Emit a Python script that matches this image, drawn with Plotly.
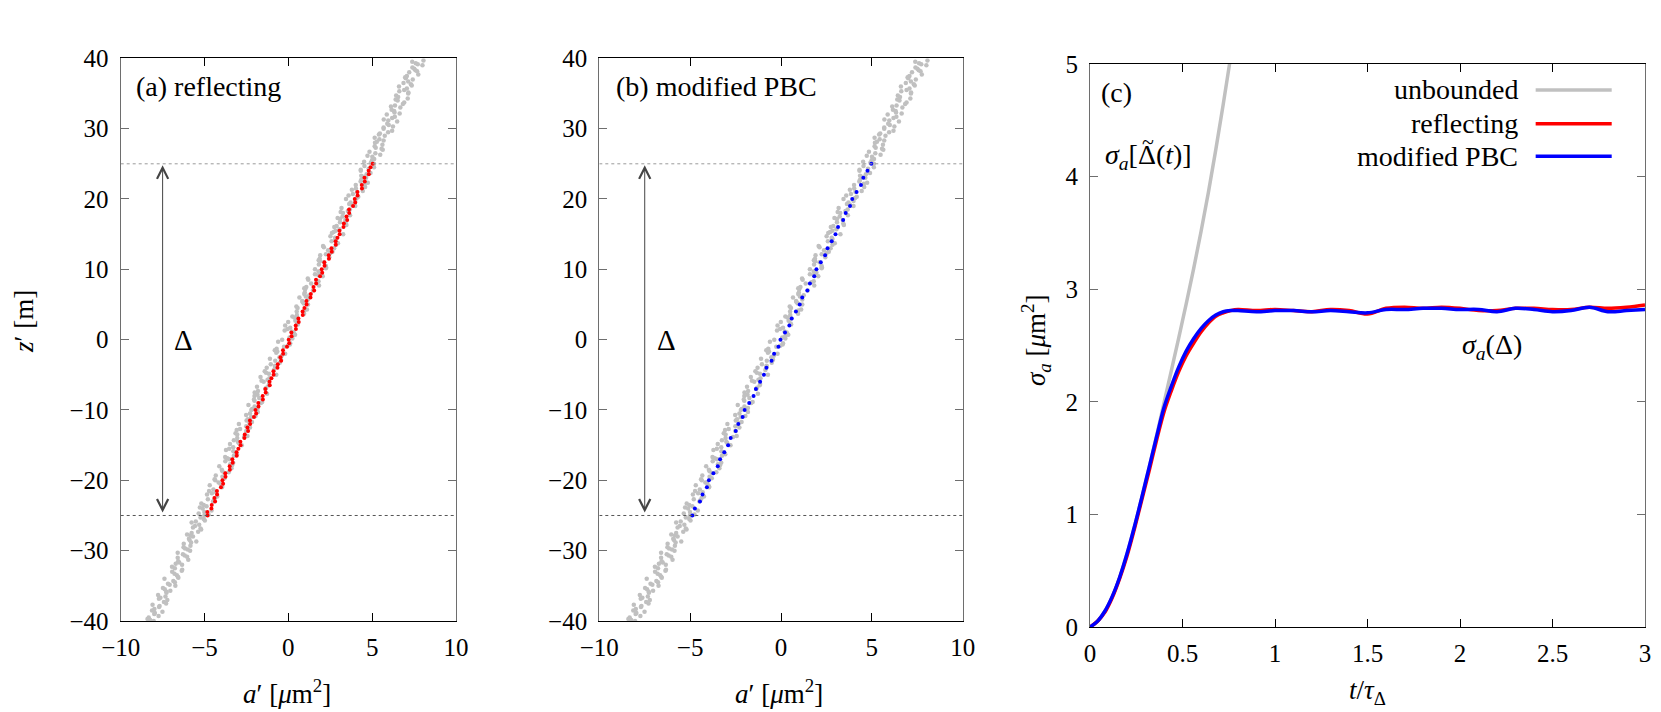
import plotly.graph_objects as go

# ---- panels (a)/(b): unbounded cloud in the (a', z') plane ----
gray_z = [
    -40.0, -39.7, -39.3, -39.0, -38.7, -38.3, -38.0, -37.7, -37.3, -37.0, -36.7, -36.3,
    -36.0, -35.7, -35.3, -35.0, -34.7, -34.3, -34.0, -33.7, -33.3, -33.0, -32.7, -32.3,
    -32.0, -31.7, -31.3, -31.0, -30.7, -30.3, -30.0, -29.7, -29.3, -29.0, -28.7, -28.3,
    -28.0, -27.7, -27.3, -27.0, -26.7, -26.3, -26.0, -25.7, -25.3, -25.0, -24.7, -24.3,
    -24.0, -23.7, -23.3, -23.0, -22.7, -22.3, -22.0, -21.7, -21.3, -21.0, -20.7, -20.3,
    -20.0, -19.7, -19.3, -19.0, -18.7, -18.3, -18.0, -17.7, -17.3, -17.0, -16.7, -16.3,
    -16.0, -15.7, -15.3, -15.0, -14.7, -14.3, -14.0, -13.7, -13.3, -13.0, -12.7, -12.3,
    -12.0, -11.7, -11.3, -11.0, -10.7, -10.3, -10.0, -9.7, -9.3, -9.0, -8.7, -8.3,
    -8.0, -7.7, -7.3, -7.0, -6.7, -6.3, -6.0, -5.7, -5.3, -5.0, -4.7, -4.3,
    -4.0, -3.7, -3.3, -3.0, -2.7, -2.3, -2.0, -1.7, -1.3, -1.0, -0.7, -0.3,
    0.0, 0.3, 0.7, 1.0, 1.3, 1.7, 2.0, 2.3, 2.7, 3.0, 3.3, 3.7,
    4.0, 4.3, 4.7, 5.0, 5.3, 5.7, 6.0, 6.3, 6.7, 7.0, 7.3, 7.7,
    8.0, 8.3, 8.7, 9.0, 9.3, 9.7, 10.0, 10.3, 10.7, 11.0, 11.3, 11.7,
    12.0, 12.3, 12.7, 13.0, 13.3, 13.7, 14.0, 14.3, 14.7, 15.0, 15.3, 15.7,
    16.0, 16.3, 16.7, 17.0, 17.3, 17.7, 18.0, 18.3, 18.7, 19.0, 19.3, 19.7,
    20.0, 20.3, 20.7, 21.0, 21.3, 21.7, 22.0, 22.3, 22.7, 23.0, 23.3, 23.7,
    24.0, 24.3, 24.7, 25.0, 25.3, 25.7, 26.0, 26.3, 26.7, 27.0, 27.3, 27.7,
    28.0, 28.3, 28.7, 29.0, 29.3, 29.7, 30.0, 30.3, 30.7, 31.0, 31.3, 31.7,
    32.0, 32.3, 32.7, 33.0, 33.3, 33.7, 34.0, 34.3, 34.7, 35.0, 35.3, 35.7,
    36.0, 36.3, 36.7, 37.0, 37.3, 37.7, 38.0, 38.3, 38.7, 39.0, 39.3, 39.7,
]
gray_a = [
    -8.03, -8.40, -7.74, -8.00, -7.51, -7.99, -7.71, -8.10, -7.42, -7.22, -7.63, -7.77,
    -7.27, -7.04, -7.48, -6.74, -7.18, -6.86, -7.39, -6.59, -6.79, -6.93, -6.33, -6.94,
    -6.34, -6.51, -5.97, -6.60, -6.18, -6.60, -5.86, -6.16, -5.84, -6.24, -5.49, -5.93,
    -5.69, -6.04, -5.38, -5.20, -5.69, -5.32, -5.77, -4.98, -5.24, -5.01, -5.35, -4.58,
    -5.11, -4.88, -5.19, -4.49, -4.80, -4.24, -4.85, -4.31, -4.47, -3.96, -4.69, -4.16,
    -4.36, -3.81, -4.33, -3.79, -3.93, -3.39, -4.12, -3.47, -3.76, -3.52, -3.77, -3.07,
    -3.15, -3.72, -3.29, -2.78, -2.96, -3.25, -3.05, -2.44, -3.15, -2.51, -2.88, -2.51,
    -2.95, -2.17, -2.42, -2.22, -2.52, -1.82, -2.21, -1.82, -2.38, -1.64, -2.02, -1.74,
    -2.02, -1.27, -1.81, -1.37, -1.87, -1.15, -1.47, -1.24, -1.66, -0.72, -1.33, -0.86,
    -1.29, -0.79, -0.51, -0.78, -1.10, -0.40, -0.19, -0.66, -0.70, -0.26, 0.09, -0.61,
    -0.37, 0.07, 0.40, 0.32, -0.22, 0.11, -0.19, 0.53, 0.42, 0.56, 0.24, 0.94,
    0.50, 1.11, 0.48, 1.17, 0.86, 1.17, 0.66, 1.25, 0.98, 1.47, 0.95, 1.83,
    1.36, 1.80, 1.16, 2.05, 1.59, 1.80, 1.59, 2.25, 1.82, 2.12, 1.81, 2.44,
    1.90, 2.50, 2.37, 2.73, 2.07, 2.96, 2.58, 2.83, 2.51, 3.27, 2.70, 3.05,
    2.74, 3.46, 3.08, 3.40, 2.94, 3.68, 3.26, 3.55, 3.17, 3.99, 3.63, 3.99,
    3.44, 4.17, 3.85, 4.10, 3.79, 4.58, 4.02, 4.74, 4.34, 4.64, 4.35, 4.90,
    4.32, 4.79, 4.54, 5.11, 4.52, 5.12, 5.01, 5.48, 4.84, 5.63, 5.21, 5.61,
    5.17, 5.68, 5.15, 5.75, 5.46, 6.19, 5.68, 6.24, 5.90, 6.49, 5.69, 6.35,
    5.87, 6.33, 6.16, 6.68, 6.36, 6.91, 6.52, 7.12, 6.43, 7.15, 6.62, 7.07,
    6.60, 7.31, 7.15, 7.42, 6.97, 7.75, 7.21, 7.58, 7.40, 8.00, 7.60, 8.06,
]
# a second batch of unbounded samples (same cloud, other realisation)
gray2_z = [
    -39.85, -39.5, -38.85, -38.5, -37.85, -37.5, -36.85, -36.5, -35.85, -35.5,
    -34.85, -34.5, -33.85, -33.5, -32.85, -32.5, -31.85, -31.5, -30.85, -30.5,
    -29.85, -29.5, -28.85, -28.5, -27.85, -27.5, -26.85, -26.5, -25.85, -25.5,
    -24.85, -24.5, -23.85, -23.5, -22.85, -22.5, -21.85, -21.5, -20.85, -20.5,
    -19.85, -19.5, -18.85, -18.5, -17.85, -17.5, -16.85, -16.5, -15.85, -15.5,
    -14.85, -14.5, -13.85, -13.5, -12.85, -12.5, -11.85, -11.5, -10.85, -10.5,
    -9.85, -9.5, -8.85, -8.5, -7.85, -7.5, -6.85, -6.5, -5.85, -5.5,
    -4.85, -4.5, -3.85, -3.5, -2.85, -2.5, -1.85, -1.5, -0.85, -0.5,
    0.15, 0.5, 1.15, 1.5, 2.15, 2.5, 3.15, 3.5, 4.15, 4.5,
    5.15, 5.5, 6.15, 6.5, 7.15, 7.5, 8.15, 8.5, 9.15, 9.5,
    10.15, 10.5, 11.15, 11.5, 12.15, 12.5, 13.15, 13.5, 14.15, 14.5,
    15.15, 15.5, 16.15, 16.5, 17.15, 17.5, 18.15, 18.5, 19.15, 19.5,
    20.15, 20.5, 21.15, 21.5, 22.15, 22.5, 23.15, 23.5, 24.15, 24.5,
    25.15, 25.5, 26.15, 26.5, 27.15, 27.5, 28.15, 28.5, 29.15, 29.5,
    30.15, 30.5, 31.15, 31.5, 32.15, 32.5, 33.15, 33.5, 34.15, 34.5,
    35.15, 35.5, 36.15, 36.5, 37.15, 37.5, 38.15, 38.5, 39.15, 39.5,
]
gray2_a = [
    -8.24, -8.33, -7.96, -8.13, -7.68, -7.29, -7.72, -7.33, -7.28, -7.37,
    -7.08, -6.77, -6.56, -6.65, -6.36, -6.77, -6.72, -6.57, -6.04, -6.29,
    -6.00, -6.25, -5.80, -5.89, -5.84, -5.77, -5.24, -5.57, -5.52, -5.05,
    -4.76, -5.01, -5.28, -5.05, -4.44, -4.37, -4.56, -4.73, -3.96, -4.05,
    -4.40, -3.93, -3.56, -3.97, -3.36, -3.29, -3.64, -3.25, -3.28, -3.53,
    -3.48, -3.01, -2.64, -3.05, -3.08, -2.29, -2.32, -2.49, -1.96, -2.29,
    -2.16, -2.01, -1.56, -2.05, -1.84, -2.01, -1.32, -1.17, -1.60, -1.13,
    -1.16, -1.41, -0.80, -1.05, -0.44, -0.53, -0.72, -0.81, -0.04, 0.11,
    0.24, 0.23, 0.20, -0.05, 0.56, -0.01, 0.36, 0.51, 0.96, 0.55,
    0.92, 0.83, 1.04, 0.95, 1.00, 1.07, 1.68, 1.19, 1.80, 1.95,
    2.24, 2.23, 1.88, 1.87, 2.24, 2.63, 2.12, 2.83, 2.80, 2.79,
    2.60, 2.83, 2.88, 3.43, 3.08, 3.23, 3.12, 3.67, 3.80, 3.71,
    4.08, 3.59, 4.44, 4.03, 4.56, 4.31, 4.44, 4.67, 4.32, 5.11,
    4.92, 4.99, 4.72, 5.19, 5.56, 5.15, 5.28, 5.43, 5.40, 5.95,
    5.68, 5.99, 5.96, 6.19, 6.64, 6.31, 6.12, 6.83, 6.40, 6.55,
    7.16, 6.91, 7.36, 6.87, 7.00, 7.07, 7.68, 7.51, 7.72, 7.39,
]

# reflecting boundaries, panel (a)
refl_z = [
    -25.0, -24.5, -24.0, -23.5, -23.0, -22.5, -22.0, -21.5, -21.0, -20.5,
    -20.0, -19.5, -19.0, -18.5, -18.0, -17.5, -17.0, -16.5, -16.0, -15.5,
    -15.0, -14.5, -14.0, -13.5, -13.0, -12.5, -12.0, -11.5, -11.0, -10.5,
    -10.0, -9.5, -9.0, -8.5, -8.0, -7.5, -7.0, -6.5, -6.0, -5.5,
    -5.0, -4.5, -4.0, -3.5, -3.0, -2.5, -2.0, -1.5, -1.0, -0.5,
    0.0, 0.5, 1.0, 1.5, 2.0, 2.5, 3.0, 3.5, 4.0, 4.5,
    5.0, 5.5, 6.0, 6.5, 7.0, 7.5, 8.0, 8.5, 9.0, 9.5,
    10.0, 10.5, 11.0, 11.5, 12.0, 12.5, 13.0, 13.5, 14.0, 14.5,
    15.0, 15.5, 16.0, 16.5, 17.0, 17.5, 18.0, 18.5, 19.0, 19.5,
    20.0, 20.5, 21.0, 21.5, 22.0, 22.5, 23.0, 23.5, 24.0, 24.5, 25.0,
]
refl_a = [
    -4.82, -4.83, -4.59, -4.57, -4.37, -4.41, -4.25, -4.26, -4.02, -3.89,
    -3.93, -3.75, -3.76, -3.49, -3.50, -3.32, -3.34, -3.08, -3.09, -2.98,
    -2.85, -2.86, -2.62, -2.60, -2.40, -2.44, -2.28, -2.29, -2.05, -1.92,
    -1.96, -1.78, -1.79, -1.52, -1.53, -1.35, -1.37, -1.11, -1.12, -1.01,
    -0.88, -0.89, -0.65, -0.63, -0.43, -0.47, -0.31, -0.32, -0.08, 0.05,
    0.02, 0.19, 0.18, 0.45, 0.44, 0.62, 0.60, 0.86, 0.85, 0.96,
    1.09, 1.08, 1.32, 1.34, 1.54, 1.50, 1.66, 1.65, 1.89, 2.02,
    1.99, 2.16, 2.15, 2.42, 2.41, 2.59, 2.57, 2.83, 2.82, 2.93,
    3.06, 3.05, 3.29, 3.31, 3.51, 3.47, 3.63, 3.62, 3.86, 3.99,
    3.96, 4.13, 4.12, 4.39, 4.38, 4.56, 4.54, 4.80, 4.79, 4.90, 5.03,
]

# modified periodic boundaries, panel (b)
pbc_z = [
    -25, -24, -23, -22, -21, -20, -19, -18, -17, -16,
    -15, -14, -13, -12, -11, -10, -9, -8, -7, -6,
    -5, -4, -3, -2, -1, 0, 1, 2, 3, 4,
    5, 6, 7, 8, 9, 10, 11, 12, 13, 14,
    15, 16, 17, 18, 19, 20, 21, 22, 23, 24, 25,
]
pbc_a = [
    -4.88, -4.74, -4.46, -4.32, -4.08, -3.97, -3.72, -3.48, -3.35, -3.12,
    -2.91, -2.77, -2.49, -2.35, -2.11, -2.00, -1.75, -1.51, -1.38, -1.15,
    -0.94, -0.80, -0.52, -0.38, -0.14, -0.03, 0.22, 0.46, 0.59, 0.82,
    1.03, 1.17, 1.45, 1.59, 1.83, 1.95, 2.19, 2.43, 2.56, 2.79,
    3.00, 3.14, 3.42, 3.56, 3.80, 3.92, 4.16, 4.40, 4.53, 4.76, 4.97,
]

# ---- panel (c): sigma_a versus t / tau_Delta ----
t_c = [0.00, 0.04, 0.08, 0.12, 0.16, 0.20, 0.24, 0.28, 0.32, 0.36, 0.40,
       0.44, 0.48, 0.52, 0.56, 0.60, 0.64, 0.68, 0.72, 0.76, 0.80,
       0.90, 1.00, 1.10, 1.20, 1.30, 1.40, 1.50, 1.60, 1.70, 1.80, 1.90,
       2.00, 2.10, 2.20, 2.30, 2.40, 2.50, 2.60, 2.70, 2.80, 2.90, 3.00]
sig_refl = [0.00, 0.05, 0.13, 0.26, 0.43, 0.63, 0.87, 1.13, 1.39, 1.66, 1.91,
            2.10, 2.27, 2.41, 2.52, 2.62, 2.70, 2.76, 2.79, 2.81, 2.82,
            2.81, 2.82, 2.81, 2.80, 2.82, 2.81, 2.78, 2.83, 2.84, 2.83, 2.84,
            2.83, 2.81, 2.81, 2.83, 2.83, 2.82, 2.82, 2.84, 2.83, 2.84, 2.86]
sig_pbc = [0.00, 0.05, 0.14, 0.27, 0.44, 0.65, 0.89, 1.15, 1.42, 1.69, 1.95,
           2.14, 2.31, 2.45, 2.56, 2.65, 2.72, 2.77, 2.80, 2.81, 2.81,
           2.80, 2.81, 2.81, 2.80, 2.81, 2.80, 2.79, 2.82, 2.82, 2.83, 2.83,
           2.82, 2.82, 2.80, 2.83, 2.82, 2.80, 2.81, 2.84, 2.80, 2.81, 2.82]
t_unb = [0.00, 0.04, 0.08, 0.12, 0.16, 0.20, 0.24, 0.28, 0.32, 0.36,
         0.40, 0.44, 0.48, 0.52, 0.56, 0.60, 0.64, 0.68, 0.72, 0.76]
sig_unb = [0.00, 0.05, 0.14, 0.27, 0.44, 0.65, 0.89, 1.15, 1.42, 1.70,
           1.99, 2.28, 2.57, 2.87, 3.18, 3.51, 3.86, 4.24, 4.64, 5.06]

FONT = "Liberation Serif, Times New Roman, Times, serif"
GRAY = "#c0c0c0"
W, H = 1661, 712

fig = go.Figure()

# scatter clouds
for xa, ya, za, zz, col in [("x", "y", refl_a, refl_z, "#ff0000"),
                            ("x2", "y2", pbc_a, pbc_z, "#0000ff")]:
    for ga, gz in [(gray_a, gray_z), (gray2_a, gray2_z)]:
        fig.add_trace(go.Scatter(x=ga, y=gz, mode="markers", xaxis=xa, yaxis=ya,
                                 marker=dict(size=4.5, color=GRAY), hoverinfo="skip"))
    fig.add_trace(go.Scatter(x=za, y=zz, mode="markers", xaxis=xa, yaxis=ya,
                             marker=dict(size=4, color=col), hoverinfo="skip"))

# panel (c) curves
fig.add_trace(go.Scatter(x=t_unb, y=sig_unb, mode="lines", xaxis="x3", yaxis="y3",
                         line=dict(color=GRAY, width=3.5, shape="spline"), name="unbounded"))
fig.add_trace(go.Scatter(x=t_c, y=sig_refl, mode="lines", xaxis="x3", yaxis="y3",
                         line=dict(color="#ff0000", width=3.5, shape="spline"), name="reflecting"))
fig.add_trace(go.Scatter(x=t_c, y=sig_pbc, mode="lines", xaxis="x3", yaxis="y3",
                         line=dict(color="#0000ff", width=3.5, shape="spline"), name="modified PBC"))


def dom_x(p0, p1):
    return [p0 / W, p1 / W]


def dom_y(top, bottom):
    return [1 - bottom / H, 1 - top / H]


def axis(domain, rng, dtick, anchor, col, standoff):
    return dict(domain=domain, range=rng, dtick=dtick, tick0=0, anchor=anchor,
                showgrid=False, zeroline=False, showline=True, linecolor=col, linewidth=1.2,
                mirror="allticks", ticks="inside", ticklen=8, tickcolor=col, tickwidth=1.2,
                tickfont=dict(family=FONT, size=25, color="black"), automargin=False,
                ticklabelstandoff=standoff)


ya_ab = dom_y(58.3, 621)
fig.update_layout(
    xaxis=axis(dom_x(120.7, 456), [-10, 10], 5, "y", "black", 4),
    yaxis=axis(ya_ab, [-40, 40], 10, "x", "#6e6e6e", 6),
    xaxis2=axis(dom_x(599.3, 962.7), [-10, 10], 5, "y2", "black", 4),
    yaxis2=axis(ya_ab, [-40, 40], 10, "x2", "#6e6e6e", 6),
    xaxis3=axis(dom_x(1090, 1645), [0, 3], 0.5, "y3", "black", 4),
    yaxis3=axis(dom_y(64, 627), [0, 5], 1, "x3", "#6e6e6e", 6),
)

shapes = []
ann = []
for k, (xr, yr) in enumerate([("x", "y"), ("x2", "y2")]):
    # dotted boundaries at z' = +-25
    for zb, c in [(25, "#9a9a9a"), (-25, "#555555")]:
        shapes.append(dict(type="line", xref=xr, yref=yr, x0=-10, x1=10, y0=zb, y1=zb,
                           line=dict(color=c, width=1, dash="dot")))
    # Delta double arrow
    ann.append(dict(xref=xr, yref=yr, axref=xr, ayref=yr, x=-7.5, y=24.8, ax=-7.5, ay=-24.8,
                    text="", showarrow=True, arrowhead=5, startarrowhead=5, arrowside="end+start",
                    arrowsize=2.2, startarrowsize=2.2, arrowwidth=1, arrowcolor="#444444"))
    ann.append(dict(xref=xr, yref=yr, x=-6.95, y=0, text="Δ", showarrow=False, xanchor="left",
                    yanchor="middle", font=dict(family=FONT, size=29, color="black")))
    ann.append(dict(xref=xr + " domain", yref=yr + " domain", x=0.04, y=0.95,
                    text=["(a) reflecting", "(b) modified PBC"][k], showarrow=False,
                    xanchor="left", yanchor="middle", font=dict(family=FONT, size=28, color="black")))

ann.append(dict(xref="x3 domain", yref="y3 domain", x=0.016, y=0.95, text="(c)", showarrow=False,
                xanchor="left", yanchor="middle", font=dict(family=FONT, size=28, color="black")))
ann.append(dict(xref="x3", yref="y3", x=0.07, y=4.18,
                text="<i>σ</i><sub><i>a</i></sub>[Δ(<i>t</i>)]", showarrow=False, xanchor="left",
                yanchor="middle", font=dict(family=FONT, size=28, color="black")))
# tilde over the Delta of the label above
ann.append(dict(xref="x3", yref="y3", x=0.07, y=4.18, text="~", showarrow=False, xanchor="left",
                yanchor="middle", xshift=37, yshift=15, font=dict(family=FONT, size=22, color="black")))
ann.append(dict(xref="x3", yref="y3", x=2.0, y=2.49,
                text="<i>σ</i><sub><i>a</i></sub>(Δ)", showarrow=False, xanchor="left",
                yanchor="middle", font=dict(family=FONT, size=28, color="black")))

# custom legend (text on the left, sample on the right)
for lab, col, yy in [("unbounded", GRAY, 0.954), ("reflecting", "#ff0000", 0.894),
                     ("modified PBC", "#0000ff", 0.836)]:
    ann.append(dict(xref="x3 domain", yref="y3 domain", x=0.775, y=yy, text=lab, showarrow=False,
                    xanchor="right", yanchor="middle", font=dict(family=FONT, size=28, color="black")))
    shapes.append(dict(type="line", xref="x3 domain", yref="y3 domain", x0=0.803, x1=0.94,
                       y0=yy, y1=yy, line=dict(color=col, width=3.5)))

# axis titles
tfont = dict(family=FONT, size=27, color="black")
common = dict(xref="paper", yref="paper", showarrow=False, font=tfont,
              xanchor="center", yanchor="middle")
ann += [
    dict(x=24 / W, y=1 - 322 / H, text="<i>z</i>′ [m]", textangle=-90, **common),
    dict(x=287 / W, y=1 - 692 / H, text="<i>a</i>′ [<i>μ</i>m<sup>2</sup>]", **common),
    dict(x=779 / W, y=1 - 692 / H, text="<i>a</i>′ [<i>μ</i>m<sup>2</sup>]", **common),
    dict(x=1036 / W, y=1 - 340 / H, text="<i>σ</i><sub><i>a</i></sub> [<i>μ</i>m<sup>2</sup>]",
         textangle=-90, **common),
    dict(x=1367 / W, y=1 - 692 / H, text="<i>t</i>/<i>τ</i><sub>Δ</sub>", **common),
]

fig.update_layout(
    width=W, height=H, margin=dict(l=0, r=0, t=0, b=0),
    paper_bgcolor="white", plot_bgcolor="white", showlegend=False,
    font=dict(family=FONT, color="black"),
    shapes=shapes, annotations=ann,
)

fig.write_html("out.html", config={"displayModeBar": False},
               post_script="document.body.style.margin='0';")
